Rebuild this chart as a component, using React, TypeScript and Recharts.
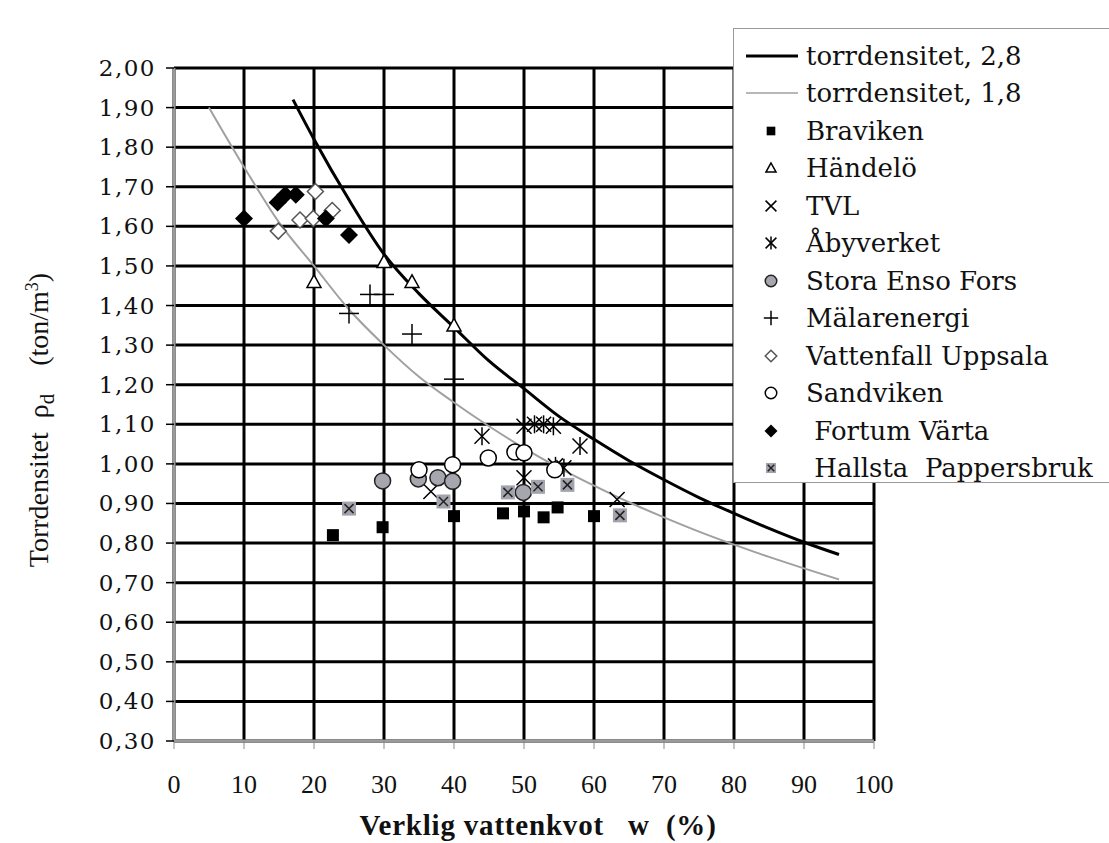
import React from "react";
import {
  ComposedChart,
  Line,
  Scatter,
  XAxis,
  YAxis,
  CartesianGrid,
} from "recharts";

// axis ticks
const xTicks = [0, 10, 20, 30, 40, 50, 60, 70, 80, 90, 100];
const xMinorTicks = [5, 15, 25, 35, 45, 55, 65, 75, 85, 95];
const yTicks = [
  0.3, 0.4, 0.5, 0.6, 0.7, 0.8, 0.9, 1.0, 1.1, 1.2, 1.3, 1.4, 1.5, 1.6, 1.7,
  1.8, 1.9, 2.0,
];

// curves
const curve28 = [
  { w: 17, d: 1.92 },
  { w: 20, d: 1.82 },
  { w: 25, d: 1.667 },
  { w: 30, d: 1.53 },
  { w: 35, d: 1.43 },
  { w: 40, d: 1.345 },
  { w: 45, d: 1.26 },
  { w: 50, d: 1.19 },
  { w: 55, d: 1.12 },
  { w: 60, d: 1.062 },
  { w: 65, d: 1.008 },
  { w: 70, d: 0.96 },
  { w: 75, d: 0.915 },
  { w: 80, d: 0.875 },
  { w: 85, d: 0.837 },
  { w: 90, d: 0.802 },
  { w: 95, d: 0.771 },
];

const curve18 = [
  { w: 5, d: 1.9 },
  { w: 10, d: 1.75 },
  { w: 15, d: 1.61 },
  { w: 20, d: 1.5 },
  { w: 25, d: 1.39 },
  { w: 30, d: 1.3 },
  { w: 35, d: 1.22 },
  { w: 40, d: 1.155 },
  { w: 45, d: 1.095 },
  { w: 50, d: 1.04 },
  { w: 55, d: 0.99 },
  { w: 60, d: 0.945 },
  { w: 65, d: 0.903 },
  { w: 70, d: 0.865 },
  { w: 75, d: 0.829 },
  { w: 80, d: 0.796 },
  { w: 85, d: 0.765 },
  { w: 90, d: 0.736 },
  { w: 95, d: 0.708 },
];

// measured points
const braviken = [
  { w: 22.7, d: 0.82 },
  { w: 29.8, d: 0.84 },
  { w: 40, d: 0.868 },
  { w: 47, d: 0.875 },
  { w: 50, d: 0.88 },
  { w: 52.8, d: 0.865 },
  { w: 54.8, d: 0.89 },
  { w: 60, d: 0.868 },
];
const handelo = [
  { w: 20, d: 1.46 },
  { w: 30, d: 1.51 },
  { w: 34, d: 1.46 },
  { w: 40, d: 1.35 },
];
const tvl = [
  { w: 36.7, d: 0.93 },
  { w: 63.3, d: 0.91 },
];
const abyverket = [
  { w: 44, d: 1.07 },
  { w: 50, d: 1.095 },
  { w: 51.5, d: 1.1 },
  { w: 52.8, d: 1.1 },
  { w: 54.2, d: 1.095 },
  { w: 58, d: 1.045 },
  { w: 50, d: 0.965 },
  { w: 54.5, d: 0.995 },
  { w: 55.7, d: 0.99 },
];
const storaEnso = [
  { w: 29.8, d: 0.957 },
  { w: 34.9, d: 0.962 },
  { w: 37.7, d: 0.965 },
  { w: 39.8, d: 0.956 },
  { w: 49.9, d: 0.928 },
];
const malarenergi = [
  { w: 25, d: 1.38 },
  { w: 28, d: 1.428 },
  { w: 30, d: 1.428 },
  { w: 34, d: 1.328 },
  { w: 40, d: 1.214 },
];
const vattenfall = [
  { w: 14.9, d: 1.588 },
  { w: 18, d: 1.616 },
  { w: 19.9, d: 1.62 },
  { w: 20.2, d: 1.688 },
  { w: 22.6, d: 1.64 },
];
const sandviken = [
  { w: 35, d: 0.985 },
  { w: 39.8, d: 0.998 },
  { w: 44.9, d: 1.015 },
  { w: 48.7, d: 1.03 },
  { w: 50, d: 1.028 },
  { w: 54.4, d: 0.985 },
];
const fortum = [
  { w: 10, d: 1.62 },
  { w: 14.8, d: 1.66 },
  { w: 15.9, d: 1.68 },
  { w: 17.4, d: 1.68 },
  { w: 21.7, d: 1.62 },
  { w: 25, d: 1.578 },
];
const hallsta = [
  { w: 25, d: 0.887 },
  { w: 38.5, d: 0.905 },
  { w: 47.7, d: 0.928 },
  { w: 52, d: 0.942 },
  { w: 56.2, d: 0.947 },
  { w: 63.7, d: 0.87 },
];

const series = [
  { name: "Braviken", kind: "square", data: braviken },
  { name: "Händelö", kind: "triangle", data: handelo },
  { name: "TVL", kind: "cross", data: tvl },
  { name: "Åbyverket", kind: "star", data: abyverket },
  { name: "Stora Enso Fors", kind: "greyCircle", data: storaEnso },
  { name: "Mälarenergi", kind: "plus", data: malarenergi },
  { name: "Vattenfall Uppsala", kind: "openDiamond", data: vattenfall },
  { name: "Sandviken", kind: "openCircle", data: sandviken },
  { name: " Fortum Värta", kind: "diamond", data: fortum },
  { name: " Hallsta  Pappersbruk", kind: "greySquare", data: hallsta },
];

const SERIF = "'DejaVu Serif', serif";
const TIMES = "'Liberation Serif', serif";

function marker(kind: string, cx: number, cy: number, k = 1) {
  const sw = 1.5;
  switch (kind) {
    case "square":
      return <rect x={cx - 6 * k} y={cy - 6 * k} width={12 * k} height={12 * k} fill="#000" />;
    case "triangle": {
      const s = 7 * k;
      return (
        <polygon
          points={`${cx},${cy - s} ${cx - s},${cy + s * 0.8} ${cx + s},${cy + s * 0.8}`}
          fill="#fff"
          stroke="#000"
          strokeWidth={sw}
        />
      );
    }
    case "cross": {
      const s = 7.5 * k;
      return (
        <g stroke="#000" strokeWidth={sw}>
          <line x1={cx - s} y1={cy - s} x2={cx + s} y2={cy + s} />
          <line x1={cx - s} y1={cy + s} x2={cx + s} y2={cy - s} />
        </g>
      );
    }
    case "star": {
      const s = 7.5 * k;
      return (
        <g stroke="#000" strokeWidth={sw}>
          <line x1={cx - s} y1={cy - s} x2={cx + s} y2={cy + s} />
          <line x1={cx - s} y1={cy + s} x2={cx + s} y2={cy - s} />
          <line x1={cx} y1={cy - s * 1.2} x2={cx} y2={cy + s * 1.2} />
        </g>
      );
    }
    case "greyCircle":
      return <circle cx={cx} cy={cy} r={8 * k} fill="#a6a6ae" stroke="#222" strokeWidth={sw} />;
    case "plus": {
      const s = 10 * k;
      return (
        <g stroke="#000" strokeWidth={sw}>
          <line x1={cx - s} y1={cy} x2={cx + s} y2={cy} />
          <line x1={cx} y1={cy - s} x2={cx} y2={cy + s} />
        </g>
      );
    }
    case "openDiamond": {
      const s = 8 * k;
      return (
        <polygon
          points={`${cx},${cy - s} ${cx + s},${cy} ${cx},${cy + s} ${cx - s},${cy}`}
          fill="#fff"
          stroke="#555"
          strokeWidth={sw}
        />
      );
    }
    case "openCircle":
      return <circle cx={cx} cy={cy} r={8 * k} fill="#fff" stroke="#000" strokeWidth={sw} />;
    case "diamond": {
      const s = 9 * k;
      return (
        <polygon
          points={`${cx},${cy - s} ${cx + s},${cy} ${cx},${cy + s} ${cx - s},${cy}`}
          fill="#000"
        />
      );
    }
    case "greySquare": {
      const s = 7 * k;
      const c = 4.5 * k;
      return (
        <g>
          <rect x={cx - s} y={cy - s} width={2 * s} height={2 * s} fill="#a3a3ad" />
          <g stroke="#222" strokeWidth={sw}>
            <line x1={cx - c} y1={cy - c} x2={cx + c} y2={cy + c} />
            <line x1={cx - c} y1={cy + c} x2={cx + c} y2={cy - c} />
          </g>
        </g>
      );
    }
    default:
      return null;
  }
}

const fmtY = (v: number) => v.toFixed(2).replace(".", ",");

const XTick = (props: any) => {
  const { x, y, payload } = props;
  return (
    <text x={x} y={y + 42} textAnchor="middle" fontFamily={TIMES} fontSize={26} fill="#111">
      {payload.value}
    </text>
  );
};

const YTick = (props: any) => {
  const { x, y, payload } = props;
  return (
    <text
      x={x - 8}
      y={y + 8}
      textAnchor="end"
      fontFamily={SERIF}
      fontSize={23}
      letterSpacing={1.5}
      fill="#111"
    >
      {fmtY(payload.value)}
    </text>
  );
};

const XTitle = (props: any) => {
  const vb = props.viewBox || { x: 174, y: 741, width: 700 };
  return (
    <text
      x={vb.x + vb.width / 2 + 14}
      y={vb.y + 94}
      textAnchor="middle"
      fontFamily={TIMES}
      fontSize={29}
      fontWeight="bold"
      letterSpacing={0.8}
      fill="#111"
      style={{ whiteSpace: "pre" }}
    >
      {"Verklig vattenkvot   w  (%)"}
    </text>
  );
};

const YTitle = () => (
  <text
    transform="translate(48, 420) rotate(-90)"
    textAnchor="middle"
    fontFamily={TIMES}
    fontSize={28}
    fill="#111"
    style={{ whiteSpace: "pre" }}
  >
    {"Torrdensitet  ρ"}
    <tspan fontSize={21} dy={6}>d</tspan>
    <tspan dy={-6}>{"    (ton/m"}</tspan>
    <tspan fontSize={18} dy={-10}>3</tspan>
    <tspan dy={10}>)</tspan>
  </text>
);

const LegendBox = () => {
  const rows = [
    { name: "torrdensitet, 2,8", kind: "line28" },
    { name: "torrdensitet, 1,8", kind: "line18" },
    ...series.map((s) => ({ name: s.name, kind: s.kind })),
  ];
  return (
    <div
      style={{
        position: "absolute",
        left: 733,
        top: 28,
        width: 420,
        height: 455,
        boxSizing: "border-box",
        background: "#fff",
        border: "1px solid #999",
        paddingTop: 8,
      }}
    >
      {rows.map((r) => (
        <div key={r.name} style={{ height: 37.5, display: "flex", alignItems: "center" }}>
          <svg width={72} height={30} style={{ flex: "none" }}>
            {r.kind === "line28" ? (
              <line x1={12} y1={15} x2={64} y2={15} stroke="#000" strokeWidth={3} />
            ) : r.kind === "line18" ? (
              <line x1={12} y1={15} x2={64} y2={15} stroke="#a0a0a0" strokeWidth={1.5} />
            ) : (
              marker(r.kind, 37, 15, 0.72)
            )}
          </svg>
          <span
            style={{
              fontFamily: SERIF,
              fontSize: 26,
              color: "#111",
              whiteSpace: "pre",
              lineHeight: 1,
            }}
          >
            {r.name}
          </span>
        </div>
      ))}
    </div>
  );
};

export default function App() {
  return (
    <div
      style={{
        position: "absolute",
        left: 0,
        top: 0,
        width: 1109,
        height: 843,
        overflow: "hidden",
        background: "#fff",
      }}
    >
      <ComposedChart
        width={1109}
        height={843}
        margin={{ top: 68, right: 235, left: 0, bottom: 0 }}
      >
        <CartesianGrid xAxisId="x" stroke="#000" strokeWidth={3} fill="#fff" />
        <XAxis
          xAxisId="minor"
          type="number"
          dataKey="w"
          domain={[0, 100]}
          ticks={xMinorTicks}
          mirror
          height={0}
          tick={false}
          tickSize={8}
          tickLine={{ stroke: "#888", strokeWidth: 1 }}
          axisLine={false}
        />
        <XAxis
          xAxisId="x"
          type="number"
          dataKey="w"
          domain={[0, 100]}
          ticks={xTicks}
          height={102}
          tickSize={8}
          tickLine={{ stroke: "#888", strokeWidth: 1 }}
          axisLine={{ stroke: "#9a9a9a", strokeWidth: 3 }}
          tick={<XTick />}
          interval={0}
          label={<XTitle />}
        />
        <YAxis
          type="number"
          dataKey="d"
          domain={[0.3, 2.0]}
          ticks={yTicks}
          width={174}
          tickSize={8}
          tickLine={{ stroke: "#000", strokeWidth: 1.5 }}
          axisLine={{ stroke: "#9a9a9a", strokeWidth: 3 }}
          tick={<YTick />}
          interval={0}
          label={<YTitle />}
        />
        <Line
          xAxisId="x"
          data={curve18}
          dataKey="d"
          type="monotone"
          stroke="#a0a0a0"
          strokeWidth={2}
          dot={false}
          isAnimationActive={false}
          name="torrdensitet, 1,8"
        />
        <Line
          xAxisId="x"
          data={curve28}
          dataKey="d"
          type="monotone"
          stroke="#000"
          strokeWidth={3}
          dot={false}
          isAnimationActive={false}
          name="torrdensitet, 2,8"
        />
        {series.map((s) => (
          <Scatter
            key={s.name}
            xAxisId="x"
            name={s.name}
            data={s.data}
            dataKey="d"
            isAnimationActive={false}
            shape={(p: any) => marker(s.kind, p.cx, p.cy)}
          />
        ))}
      </ComposedChart>
      <LegendBox />
    </div>
  );
}
